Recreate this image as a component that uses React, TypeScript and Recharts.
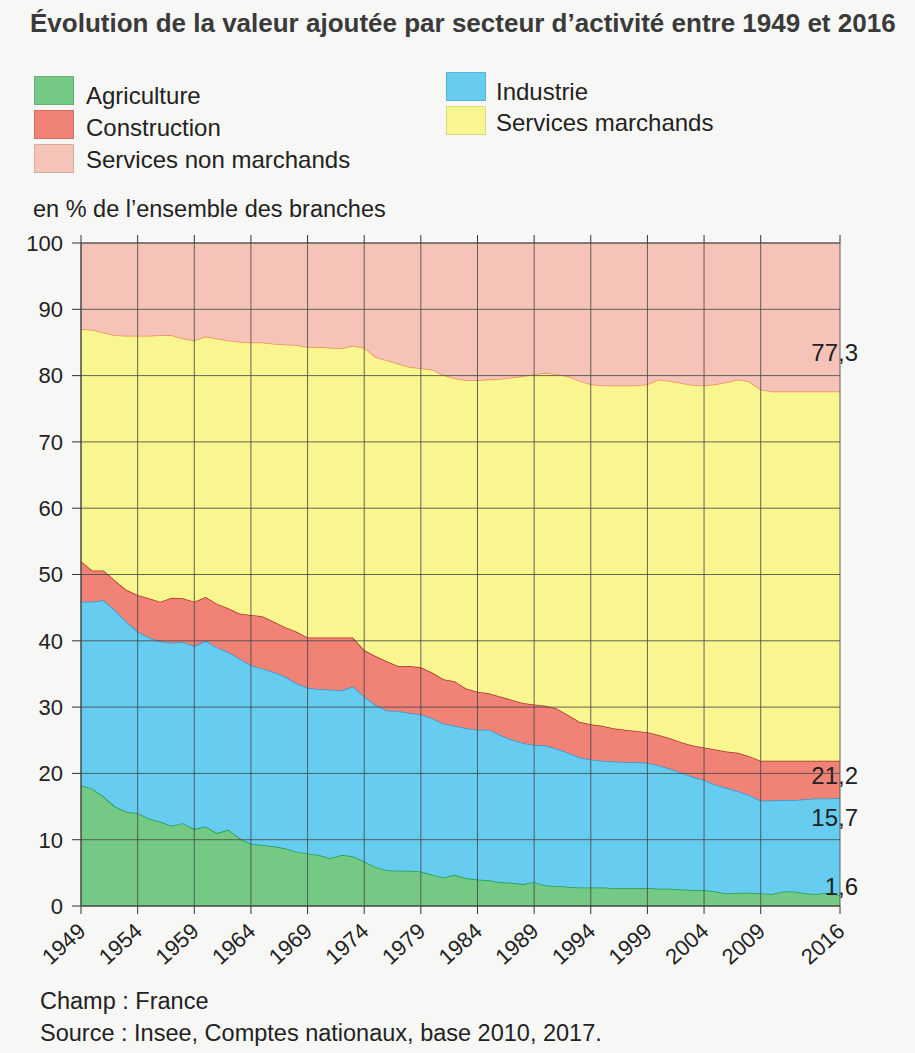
import React from 'react';
import { AreaChart, Area, XAxis, YAxis, CartesianGrid, ReferenceDot } from 'recharts';

// years 1949 -> 2016
const years = Array.from({ length: 68 }, (_, i) => 1949 + i);

// upper edge of each band, in % (cumulative)
const agricultureTop = [
  18.2, 17.7, 16.5, 15.0, 14.2, 14.0, 13.2, 12.7, 12.1, 12.5, 11.6, 12.0, 11.0, 11.5, 10.2, 9.4, 9.2, 9.0, 8.7, 8.2,
  7.9, 7.7, 7.2, 7.7, 7.5, 6.7, 5.9, 5.4, 5.3, 5.3, 5.2, 4.7, 4.3, 4.7, 4.2, 4.0, 3.9, 3.6, 3.5, 3.3,
  3.6, 3.1, 3.0, 2.9, 2.8, 2.8, 2.8, 2.7, 2.7, 2.7, 2.7, 2.6, 2.6, 2.5, 2.4, 2.4, 2.2, 1.9, 2.0, 2.0,
  1.9, 1.8, 2.2, 2.2, 1.9, 1.8, 2.0, 1.6,
];
const industrieTop = [
  45.9, 45.9, 46.1, 44.6, 42.9, 41.4, 40.5, 39.9, 39.7, 39.8, 39.2, 40.0, 39.0, 38.3, 37.3, 36.3, 35.8, 35.3, 34.6, 33.6,
  32.9, 32.7, 32.6, 32.5, 33.1, 31.6, 30.3, 29.5, 29.4, 29.1, 28.9, 28.3, 27.5, 27.2, 26.8, 26.6, 26.6, 25.8, 25.1, 24.6,
  24.3, 24.2, 23.7, 23.1, 22.4, 22.1, 21.9, 21.8, 21.7, 21.7, 21.6, 21.2, 20.7, 20.1, 19.5, 19.0, 18.3, 17.8, 17.3, 16.7,
  15.9, 15.9, 16.0, 16.0, 16.1, 16.2, 16.2, 16.3,
];
const constructionTop = [
  52.0, 50.6, 50.6, 49.1, 47.7, 46.9, 46.4, 45.9, 46.5, 46.4, 45.9, 46.6, 45.6, 44.9, 44.1, 43.9, 43.7, 42.9, 42.1, 41.4,
  40.5, 40.5, 40.5, 40.5, 40.5, 38.6, 37.7, 36.9, 36.2, 36.2, 36.0, 35.2, 34.2, 33.9, 32.8, 32.3, 32.1, 31.6, 31.1, 30.6,
  30.4, 30.2, 29.8, 28.8, 27.8, 27.4, 27.2, 26.8, 26.6, 26.4, 26.2, 25.8, 25.3, 24.7, 24.2, 23.9, 23.6, 23.3, 23.1, 22.6,
  21.9, 21.9, 21.9, 21.9, 21.9, 21.9, 21.9, 21.9,
];
const servicesMarchandsTop = [
  87.0, 86.9, 86.5, 86.1, 86.0, 86.0, 86.0, 86.1, 86.1, 85.6, 85.3, 85.9, 85.6, 85.3, 85.1, 85.0, 85.0, 84.8, 84.7, 84.6,
  84.3, 84.3, 84.2, 84.1, 84.5, 84.2, 82.8, 82.3, 81.8, 81.3, 81.1, 80.9, 80.1, 79.6, 79.3, 79.3, 79.4, 79.5, 79.7, 79.9,
  80.2, 80.4, 80.2, 79.9, 79.2, 78.7, 78.5, 78.5, 78.5, 78.5, 78.7, 79.4, 79.2, 78.9, 78.6, 78.5, 78.7, 79.0, 79.4, 79.1,
  77.9, 77.6, 77.6, 77.6, 77.6, 77.6, 77.6, 77.6,
];

const yearTicks = [1949, 1954, 1959, 1964, 1969, 1974, 1979, 1984, 1989, 1994, 1999, 2004, 2009, 2016];
const valueTicks = [0, 10, 20, 30, 40, 50, 60, 70, 80, 90, 100];

// values printed at the right end of the chart
const endLabels = ['77,3', '21,2', '15,7', '1,6'];

const r1 = (v: number) => Math.round(v * 10) / 10;

const data = years.map((year, i) => ({
  year,
  agriculture: agricultureTop[i],
  industrie: r1(industrieTop[i] - agricultureTop[i]),
  construction: r1(constructionTop[i] - industrieTop[i]),
  servicesMarchands: r1(servicesMarchandsTop[i] - constructionTop[i]),
  servicesNonMarchands: r1(100 - servicesMarchandsTop[i]),
}));

const C = {
  agriculture: '#74c985',
  industrie: '#66cdf0',
  construction: '#f08276',
  servicesMarchands: '#f9f68f',
  servicesNonMarchands: '#f6c3b8',
};

const FONT = "'Liberation Sans', Arial, sans-serif";

const YearTick = ({ x, y, payload }: any) => (
  <g transform={`translate(${x + 6},${y + 17})`}>
    <text textAnchor="end" transform="rotate(-42)" fontSize={22} fill="#222" fontFamily={FONT}>
      {payload.value}
    </text>
  </g>
);

const EndLabel = (dy: number, text: string) => (props: any) => {
  const { viewBox } = props;
  return (
    <text x={viewBox.x + 18} y={viewBox.y + dy} textAnchor="end" dominantBaseline="central"
      fontSize={24} fill="#222" fontFamily={FONT}>
      {text}
    </text>
  );
};

const legendItems = [
  { name: 'Agriculture', color: C.agriculture, left: 34, top: 76, textTop: 83, textLeft: 86 },
  { name: 'Construction', color: C.construction, left: 34, top: 110, textTop: 115, textLeft: 86 },
  { name: 'Services non marchands', color: C.servicesNonMarchands, left: 34, top: 144, textTop: 147, textLeft: 86 },
  { name: 'Industrie', color: C.industrie, left: 446, top: 72, textTop: 79, textLeft: 496 },
  { name: 'Services marchands', color: C.servicesMarchands, left: 446, top: 106, textTop: 110, textLeft: 496 },
];

export default function App() {
  const last = years.length - 1;
  return (
    <div style={{ position: 'absolute', left: 0, top: 0, width: 915, height: 1053, background: '#f7f7f5', fontFamily: FONT, color: '#222', overflow: 'hidden' }}>
      <div style={{ position: 'absolute', left: 30, top: 8, fontSize: 26, fontWeight: 'bold', color: '#3a3a3a', whiteSpace: 'nowrap' }}>
        Évolution de la valeur ajoutée par secteur d’activité entre 1949 et 2016
      </div>

      {legendItems.map((it) => (
        <React.Fragment key={it.name}>
          <div style={{ position: 'absolute', left: it.left, top: it.top, width: 40, height: 29, boxSizing: 'border-box', background: it.color, border: '1px solid rgba(0,0,0,0.12)' }} />
          <div style={{ position: 'absolute', left: it.textLeft, top: it.textTop, height: 26, lineHeight: '26px', fontSize: 24, whiteSpace: 'nowrap' }}>
            {it.name}
          </div>
        </React.Fragment>
      ))}

      <div style={{ position: 'absolute', left: 33, top: 196, fontSize: 23.5, lineHeight: '26px', whiteSpace: 'nowrap' }}>
        en % de l’ensemble des branches
      </div>

      <div style={{ position: 'absolute', left: 0, top: 0 }}>
        <AreaChart width={915} height={1000} data={data} margin={{ top: 235, right: 75, left: 31, bottom: 34 }}>
          <Area type="linear" dataKey="agriculture" stackId="1" stroke="#1f9a50" strokeWidth={1.5} fill={C.agriculture} fillOpacity={1} isAnimationActive={false} />
          <Area type="linear" dataKey="industrie" stackId="1" stroke="#3197d6" strokeWidth={1.5} fill={C.industrie} fillOpacity={1} isAnimationActive={false} />
          <Area type="linear" dataKey="construction" stackId="1" stroke="#a8342a" strokeWidth={1.5} fill={C.construction} fillOpacity={1} isAnimationActive={false} />
          <Area type="linear" dataKey="servicesMarchands" stackId="1" stroke="#ee8d5a" strokeWidth={1.5} fill={C.servicesMarchands} fillOpacity={1} isAnimationActive={false} />
          <Area type="linear" dataKey="servicesNonMarchands" stackId="1" stroke="none" fill={C.servicesNonMarchands} fillOpacity={1} isAnimationActive={false} />
          <CartesianGrid stroke="#4a4a4a" strokeWidth={1} strokeOpacity={0.85} zIndex={1000} />
          <XAxis dataKey="year" type="number" domain={[1949, 2016]} ticks={yearTicks} interval={0}
            height={60} tickSize={8} tick={<YearTick />} axisLine={{ stroke: '#333' }} tickLine={{ stroke: '#333' }} />
          <XAxis xAxisId="top" dataKey="year" type="number" domain={[1949, 2016]} ticks={yearTicks} interval={0}
            orientation="top" height={8} tickSize={8} tick={() => <g />} axisLine={false} tickLine={{ stroke: '#333' }} />
          <YAxis type="number" domain={[0, 100]} ticks={valueTicks} interval={0} width={50} tickSize={9} tickMargin={9}
            tick={{ fontSize: 22, fill: '#222', fontFamily: FONT }} axisLine={{ stroke: '#333' }} tickLine={{ stroke: '#333' }} />
          <ReferenceDot x={2016} y={servicesMarchandsTop[last]} r={0} ifOverflow="visible" label={EndLabel(-39, endLabels[0])} />
          <ReferenceDot x={2016} y={constructionTop[last]} r={0} ifOverflow="visible" label={EndLabel(15, endLabels[1])} />
          <ReferenceDot x={2016} y={industrieTop[last]} r={0} ifOverflow="visible" label={EndLabel(20, endLabels[2])} />
          <ReferenceDot x={2016} y={agricultureTop[last]} r={0} ifOverflow="visible" label={EndLabel(-9, endLabels[3])} />
        </AreaChart>
      </div>

      <div style={{ position: 'absolute', left: 40, top: 988, fontSize: 23.5, lineHeight: '26px', whiteSpace: 'nowrap' }}>Champ : France</div>
      <div style={{ position: 'absolute', left: 40, top: 1020, fontSize: 23.5, lineHeight: '26px', whiteSpace: 'nowrap' }}>
        Source : Insee, Comptes nationaux, base 2010, 2017.
      </div>
    </div>
  );
}
